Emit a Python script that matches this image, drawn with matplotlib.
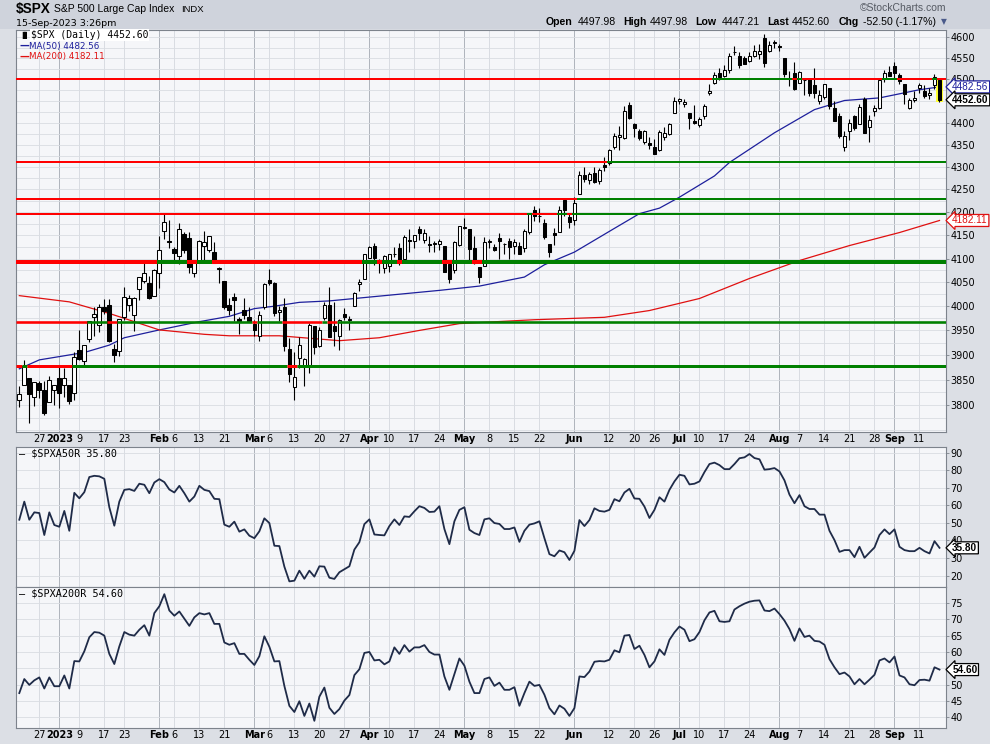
import numpy as np
import pandas as pd
import matplotlib
matplotlib.use("Agg")
import matplotlib.pyplot as plt
from matplotlib.patches import Rectangle
from matplotlib.ticker import NullLocator, NullFormatter

# ---------------- data ----------------
holidays = ["2022-12-26", "2023-01-02", "2023-01-16", "2023-02-20", "2023-04-07",
            "2023-05-29", "2023-06-19", "2023-07-04", "2023-09-04"]
days = pd.bdate_range("2022-12-20", "2023-09-15")
days = days[~days.isin(pd.to_datetime(holidays))]

opens = [
    3810.5, 3839.5, 3853.3, 3815.1, 3843.3, 3829.6, 3805.5, 3829.1,
    3853.3, 3840.4, 3839.7, 3823.4, 3910.8, 3888.6, 3932.4, 3977.6, 3960.6, 3999.3,
    4002.3, 3911.8, 3909.0, 3978.1, 4001.7, 3982.7, 4036.1, 4053.7, 4049.3, 4020.9,
    4070.1, 4158.7, 4136.7, 4119.6, 4105.4, 4153.3, 4144.3, 4068.9, 4096.6, 4126.7,
    4119.5, 4114.8, 4077.4, 4052.4, 4001.8, 4018.6, 3973.2, 3992.4, 3977.2,
    3963.3, 3938.7, 3998.0, 4055.2, 4048.3, 3987.6, 3998.7, 3912.8, 3835.1, 3894.0,
    3876.7, 3878.9, 3958.7, 3917.5, 3975.9, 4002.0, 3959.2, 3939.2, 3982.9, 3974.1,
    3999.5, 4046.7, 4056.2,
    4102.2, 4128.0, 4094.5, 4081.2, 4085.2, 4110.3, 4121.7, 4100.0, 4140.1, 4137.2,
    4164.3, 4139.3, 4130.5, 4132.1, 4132.1, 4126.4, 4087.8, 4075.3, 4129.6,
    4166.8, 4164.1, 4122.3, 4082.6, 4084.7, 4136.0, 4124.3, 4143.7, 4132.2, 4138.5,
    4126.7, 4127.9, 4122.9, 4157.7, 4204.1, 4190.8, 4176.8, 4132.0, 4155.7, 4156.2,
    4226.7, 4190.7,
    4183.0, 4241.0, 4282.0, 4271.6, 4285.5, 4268.7, 4304.9, 4308.3, 4345.4, 4366.3,
    4365.3, 4440.0, 4396.1, 4380.0, 4355.4, 4354.2, 4344.8, 4337.4, 4367.5, 4374.9,
    4422.4,
    4450.5, 4442.0, 4422.6, 4404.5, 4394.2, 4415.6, 4467.7, 4491.5, 4514.6, 4508.9,
    4521.8, 4563.9, 4554.4, 4550.2, 4543.4, 4555.2, 4558.9, 4598.3, 4565.8, 4584.8,
    4578.8, 4550.9, 4502.0, 4514.0, 4491.6, 4498.0, 4501.6, 4487.2, 4450.7, 4458.1,
    4478.9, 4433.8, 4416.3, 4344.9, 4380.3, 4415.3, 4396.4, 4455.2, 4389.4, 4426.0,
    4432.8, 4500.3, 4517.0,
    4530.6, 4510.1, 4490.4, 4434.6, 4451.3, 4481.0, 4473.3, 4462.6, 4487.8, 4497.98,
]
highs = [
    3838.2, 3889.8, 3853.3, 3845.8, 3846.7, 3848.3, 3858.2, 3839.9,
    3878.5, 3873.2, 3839.7, 3906.2, 3950.6, 3919.8, 3970.1, 3997.8, 4003.9, 4015.4,
    4014.2, 3922.9, 3972.9, 4039.3, 4023.9, 4019.6, 4061.6, 4094.2, 4063.9, 4077.2,
    4148.9, 4195.4, 4182.4, 4124.6, 4176.5, 4156.9, 4156.2, 4094.4, 4138.9, 4159.8,
    4148.1, 4136.5, 4081.5, 4052.4, 4017.4, 4028.3, 3978.3, 4018.1, 3997.5,
    3971.7, 3990.8, 4048.3, 4078.5, 4050.0, 4000.4, 4017.8, 3934.1, 3905.1, 3937.3,
    3894.3, 3964.5, 3958.9, 3956.6, 4009.1, 4039.5, 4007.7, 3972.7, 3996.0, 3979.2,
    4030.6, 4057.9, 4110.8,
    4127.7, 4133.1, 4099.7, 4107.3, 4109.5, 4124.3, 4134.4, 4150.3, 4163.2, 4151.7,
    4169.5, 4162.6, 4148.6, 4138.0, 4142.4, 4126.4, 4089.7, 4138.2, 4170.1,
    4186.9, 4164.1, 4148.3, 4082.6, 4147.0, 4142.3, 4130.4, 4154.3, 4132.8, 4143.7,
    4141.3, 4135.5, 4164.7, 4198.1, 4212.9, 4209.2, 4185.7, 4132.0, 4165.7, 4212.9,
    4231.1, 4195.4,
    4232.4, 4290.7, 4299.3, 4288.3, 4299.2, 4298.0, 4322.6, 4340.1, 4375.4, 4391.8,
    4439.2, 4448.5, 4400.2, 4386.2, 4382.3, 4366.6, 4362.1, 4384.4, 4390.4, 4398.4,
    4458.5,
    4456.5, 4454.1, 4422.6, 4440.4, 4412.6, 4443.6, 4488.3, 4517.4, 4527.8, 4532.9,
    4562.3, 4578.4, 4564.7, 4555.0, 4563.4, 4580.6, 4582.5, 4607.1, 4590.2, 4594.2,
    4584.6, 4550.9, 4519.5, 4540.3, 4519.8, 4503.3, 4502.4, 4527.4, 4476.2, 4490.3,
    4478.9, 4450.0, 4421.2, 4381.8, 4407.6, 4418.6, 4443.2, 4458.3, 4418.5, 4439.6,
    4500.1, 4521.7, 4532.3,
    4541.3, 4514.3, 4490.4, 4457.8, 4473.5, 4490.8, 4487.1, 4479.4, 4512.0, 4497.98,
]
lows = [
    3795.6, 3839.5, 3764.5, 3797.0, 3813.2, 3780.8, 3805.5, 3800.3,
    3794.3, 3815.8, 3802.4, 3809.6, 3890.4, 3877.3, 3925.8, 3937.6, 3947.7, 3984.6,
    3926.6, 3885.5, 3897.9, 3971.6, 3989.8, 3949.1, 4013.3, 4048.7, 4015.6, 4020.4,
    4037.2, 4141.9, 4123.4, 4093.4, 4088.4, 4111.7, 4069.7, 4060.8, 4092.7, 4095.0,
    4113.9, 4089.7, 4047.9, 3995.2, 3981.9, 3969.2, 3943.1, 3973.6, 3968.2,
    3939.1, 3928.2, 3995.2, 4044.6, 3980.3, 3969.8, 3908.7, 3846.3, 3808.9, 3873.6,
    3838.2, 3864.1, 3901.3, 3916.9, 3971.2, 3936.2, 3917.4, 3909.2, 3970.6, 3951.5,
    3999.5, 4032.6, 4056.2,
    4102.2, 4086.9, 4069.8, 4069.8, 4072.6, 4102.6, 4086.9, 4099.4, 4113.2, 4123.2,
    4140.4, 4134.5, 4114.6, 4113.9, 4117.8, 4071.4, 4049.4, 4068.7, 4127.9,
    4164.1, 4089.7, 4088.9, 4048.3, 4084.7, 4123.8, 4116.1, 4098.9, 4109.3, 4099.1,
    4110.3, 4109.9, 4113.6, 4153.1, 4180.2, 4179.7, 4142.5, 4103.9, 4129.7, 4156.2,
    4192.2, 4166.2,
    4171.6, 4241.0, 4266.8, 4263.1, 4263.9, 4261.1, 4291.7, 4304.4, 4341.3, 4337.9,
    4362.6, 4407.4, 4367.2, 4360.1, 4351.8, 4341.3, 4328.1, 4335.0, 4360.2, 4372.0,
    4422.4,
    4442.3, 4436.6, 4385.1, 4397.4, 4389.9, 4408.5, 4463.2, 4489.4, 4499.6, 4504.9,
    4514.6, 4557.5, 4527.6, 4535.8, 4541.3, 4552.4, 4547.6, 4528.6, 4564.0, 4573.1,
    4567.5, 4505.8, 4485.5, 4474.6, 4491.2, 4464.4, 4461.3, 4457.9, 4444.0, 4453.4,
    4432.2, 4403.6, 4364.8, 4335.3, 4360.3, 4382.8, 4396.4, 4375.6, 4356.3, 4415.0,
    4431.7, 4493.6, 4507.4,
    4501.4, 4489.6, 4442.4, 4430.5, 4448.4, 4467.9, 4456.8, 4453.5, 4478.7, 4447.21,
]
closes = [
    3821.6, 3878.4, 3822.4, 3844.8, 3829.3, 3783.2, 3849.3, 3839.5,
    3824.1, 3853.0, 3808.1, 3895.1, 3892.1, 3919.3, 3969.6, 3983.2, 3999.1, 3991.0,
    3928.9, 3898.9, 3972.6, 4019.8, 4016.9, 4016.2, 4060.4, 4070.6, 4017.8, 4076.6,
    4119.2, 4179.8, 4136.5, 4111.1, 4164.0, 4117.9, 4081.5, 4090.5, 4137.3, 4136.1,
    4148.0, 4090.4, 4079.1, 3997.3, 3991.1, 4012.3, 3970.0, 3982.2, 3970.2,
    3951.4, 3981.4, 4045.6, 4048.4, 3986.4, 3992.0, 3918.3, 3861.6, 3855.8, 3919.3,
    3891.9, 3960.3, 3916.6, 3951.6, 4002.9, 3937.0, 3948.7, 3971.0, 3977.5, 3971.3,
    4027.8, 4050.8, 4109.3,
    4124.5, 4100.6, 4090.4, 4105.0, 4109.1, 4108.9, 4092.0, 4146.2, 4137.6, 4151.3,
    4154.9, 4154.5, 4129.8, 4133.5, 4137.0, 4071.6, 4056.0, 4135.4, 4169.5,
    4167.9, 4119.6, 4090.8, 4061.2, 4136.3, 4138.1, 4119.2, 4137.6, 4130.6, 4124.1,
    4136.3, 4109.9, 4158.8, 4198.1, 4192.0, 4192.6, 4145.6, 4115.2, 4151.3, 4205.5,
    4205.5, 4179.8,
    4221.0, 4282.4, 4273.8, 4283.9, 4267.5, 4293.9, 4298.9, 4338.9, 4369.0, 4372.6,
    4425.8, 4409.6, 4388.7, 4365.7, 4381.9, 4348.3, 4328.8, 4378.4, 4376.9, 4396.4,
    4450.4,
    4455.6, 4446.8, 4411.6, 4399.0, 4409.5, 4439.3, 4472.2, 4510.0, 4505.4, 4522.8,
    4555.0, 4565.7, 4534.9, 4536.3, 4554.6, 4567.5, 4566.8, 4537.4, 4582.2, 4589.0,
    4576.7, 4513.4, 4501.9, 4478.0, 4518.4, 4499.4, 4467.7, 4468.8, 4464.1, 4489.7,
    4437.9, 4404.3, 4370.4, 4369.7, 4399.8, 4387.6, 4436.0, 4376.3, 4405.7, 4433.3,
    4497.6, 4514.9, 4507.7,
    4515.8, 4496.8, 4465.5, 4451.1, 4457.5, 4487.5, 4461.9, 4467.4, 4505.1, 4452.60,
]

# moving averages
ma50_dates = ["2022-12-20", "2022-12-27", "2023-01-10", "2023-01-18", "2023-01-23",
              "2023-02-01", "2023-02-13", "2023-02-22", "2023-03-01", "2023-03-07",
              "2023-03-14", "2023-03-22", "2023-03-24", "2023-04-24", "2023-05-04",
              "2023-05-17", "2023-05-23", "2023-06-01", "2023-06-13", "2023-06-21",
              "2023-06-27", "2023-07-03", "2023-07-13", "2023-07-18", "2023-07-31",
              "2023-08-10", "2023-08-18", "2023-08-29", "2023-09-11", "2023-09-15"]
ma50_vals = [3872, 3890, 3905, 3920, 3935, 3951, 3968, 3979, 3995, 4000,
             4008, 4011, 4013, 4033, 4042, 4061, 4087, 4114, 4165, 4197,
             4209, 4233, 4280, 4310, 4377, 4430, 4451, 4457, 4476, 4482.56]

ma200_dates = ["2022-12-20", "2023-01-05", "2023-01-18", "2023-02-01", "2023-02-14",
               "2023-02-22", "2023-03-08", "2023-03-24", "2023-04-05", "2023-04-18",
               "2023-04-28", "2023-05-19", "2023-06-09", "2023-06-23", "2023-07-10",
               "2023-07-24", "2023-08-07", "2023-08-21", "2023-09-05", "2023-09-15"]
ma200_vals = [4022, 4009, 3985, 3951, 3942, 3939, 3939, 3929, 3935, 3950,
              3964, 3972, 3977, 3991, 4016, 4058, 4096, 4128, 4156, 4182.11]

# breadth: % of S&P 500 stocks above 50-day / 200-day MA
a50r = [
    51.8, 62.1, 51.8, 56.0, 55.6, 43.1, 56.0, 48.8, 47.8, 56.8,
    45.5, 67.1, 64.0, 67.5, 76.1, 76.8, 76.5, 75.1, 58.9, 48.4,
    62.1, 68.8, 69.2, 68.2, 72.3, 71.7, 66.9, 73.0, 74.9, 73.2,
    69.0, 67.3, 71.1, 66.9, 62.1, 65.0, 71.1, 68.8, 68.1, 63.7,
    63.5, 49.0, 47.8, 50.7, 45.0, 46.3, 42.7, 41.3, 45.2, 52.6,
    49.9, 37.0, 36.8, 25.1, 16.7, 17.1, 22.8, 18.2, 22.8, 19.4,
    25.3, 25.1, 18.8, 18.1, 21.9, 23.6, 25.3, 34.8, 39.0, 49.3,
    52.0, 43.4, 43.1, 42.9, 48.2, 52.0, 48.8, 53.7, 53.4, 56.6,
    59.5, 58.5, 56.2, 56.4, 59.5, 46.5, 37.9, 50.9, 57.4, 58.9,
    46.1, 44.2,
    43.1, 52.0, 52.6, 49.9, 49.4, 46.5, 46.5, 47.4, 39.2, 45.5,
    49.0, 49.7, 50.9, 41.3, 32.2, 31.0, 34.3, 33.3, 28.9, 34.1,
    51.6, 48.2, 51.6, 58.3, 56.8, 56.4, 57.4, 63.5, 62.3, 67.3,
    69.4, 63.9, 63.7, 59.3, 52.8, 57.4, 64.6, 62.1, 68.8, 73.6,
    77.4, 76.8, 71.9, 72.3, 73.6, 78.9, 83.5, 84.3, 82.9, 80.6,
    80.6, 83.5, 86.8, 87.3, 89.2, 86.9, 86.2, 80.3, 80.6, 81.2,
    79.3, 74.2, 66.1, 61.2, 65.8, 59.5, 57.9, 57.9, 54.7, 54.7,
    45.5, 40.2, 33.5, 34.5, 34.5, 30.5, 36.4, 30.1, 33.1, 36.0,
    43.1, 46.3, 43.6, 46.3, 36.4, 34.5, 33.9, 33.9, 35.8, 33.9,
    32.6, 39.6, 35.8,
]
a200r = [
    47.4, 51.7, 49.9, 51.3, 52.2, 48.8, 52.2, 49.5, 49.5, 52.8,
    48.8, 57.2, 57.1, 60.2, 64.5, 66.1, 65.9, 65.0, 59.4, 56.3,
    61.7, 66.1, 65.3, 65.0, 66.8, 68.2, 65.0, 71.9, 74.0, 77.7,
    72.7, 71.1, 72.4, 70.2, 68.0, 70.6, 71.9, 71.5, 71.9, 68.6,
    68.6, 62.9, 62.2, 62.7, 59.4, 59.4, 57.6, 56.0, 58.7, 64.8,
    61.6, 57.1, 57.2, 49.6, 43.5, 41.6, 44.9, 40.4, 44.2, 38.9,
    46.3, 49.1, 42.9, 41.0, 42.5, 45.1, 46.8, 52.9, 54.7, 59.7,
    60.0, 57.4, 57.6, 56.2, 57.1, 61.4, 59.4, 62.1, 60.1, 61.4,
    61.4, 62.1, 60.0, 59.2, 59.2, 52.5, 48.4, 53.2, 58.0, 55.8,
    50.9, 47.4,
    47.4, 51.7, 52.2, 49.6, 50.6, 48.4, 48.4, 49.2, 43.5, 47.4,
    50.9, 49.6, 49.9, 46.9, 42.8, 40.9, 43.6, 42.6, 40.4, 42.8,
    52.5, 52.3, 54.0, 57.0, 57.2, 57.1, 57.6, 60.5, 59.9, 65.0,
    65.2, 60.9, 61.9, 59.1, 55.3, 57.1, 60.8, 59.1, 63.7, 66.0,
    67.8, 66.8, 63.3, 63.9, 66.1, 69.7, 72.1, 72.6, 69.4, 69.2,
    69.4, 73.0, 74.0, 74.8, 75.4, 75.7, 75.8, 72.7, 72.5, 73.3,
    71.6, 69.6, 67.0, 63.4, 67.2, 64.6, 65.0, 63.4, 63.2, 62.2,
    57.8, 55.3, 53.2, 53.7, 52.5, 50.1, 51.7, 50.1, 51.5, 53.0,
    57.4, 58.0, 56.8, 58.6, 52.8, 52.2, 50.1, 49.8, 51.4, 51.5,
    51.2, 55.3, 54.6,
]

# horizontal support / resistance levels
levels = [4500, 4310, 4229, 4197, 4093, 3967, 3877]
level_px = [2, 2, 2, 2, 4, 2.6, 3]

tick_dates = ["2022-12-27", "2023-01-03", "2023-01-09", "2023-01-17", "2023-01-23",
              "2023-02-01", "2023-02-06", "2023-02-13", "2023-02-21", "2023-03-01",
              "2023-03-06", "2023-03-13", "2023-03-20", "2023-03-27", "2023-04-03",
              "2023-04-10", "2023-04-17", "2023-04-24", "2023-05-01", "2023-05-08",
              "2023-05-15", "2023-05-22", "2023-06-01", "2023-06-12", "2023-06-20",
              "2023-06-26", "2023-07-03", "2023-07-10", "2023-07-17", "2023-07-24",
              "2023-08-01", "2023-08-07", "2023-08-14", "2023-08-21", "2023-08-28",
              "2023-09-01", "2023-09-11"]
tick_labels = ["27", "2023", "9", "17", "23", "Feb", "6", "13", "21", "Mar",
               "6", "13", "20", "27", "Apr", "10", "17", "24", "May", "8",
               "15", "22", "Jun", "12", "20", "26", "Jul", "10", "17", "24",
               "Aug", "7", "14", "21", "28", "Sep", "11"]
bold_labels = {"2023", "Feb", "Mar", "Apr", "May", "Jun", "Jul", "Aug", "Sep"}

# ---------------- figure ----------------
opens, highs, lows, closes = map(np.array, (opens, highs, lows, closes))
n = len(closes)
xi = np.arange(n)
tick_pos = days.get_indexer(pd.to_datetime(tick_dates))

W, H = 990, 744
fig = plt.figure(figsize=(W / 100, H / 100), dpi=100, facecolor="#dcdfe5")


def fx(x):
    return x / W


def fy(y):
    return 1 - y / H


def px(p):
    return p * 0.72


XL = (-0.66, n + 0.3)
BG = "#f5f6f9"
GRID = "#d9dce2"
MONTH_GRID = "#aeb3bc"
SPINE = "#7d838c"

ax = fig.add_axes([fx(16), fy(432), fx(930), (432 - 30) / H])
ax1 = fig.add_axes([fx(16), fy(587), fx(930), (587 - 447) / H])
ax2 = fig.add_axes([fx(16), fy(728), fx(930), (728 - 587) / H])


def style(a, bottom_labels):
    a.set_facecolor(BG)
    a.set_xlim(*XL)
    for s in a.spines.values():
        s.set_color(SPINE)
        s.set_linewidth(0.8)
    a.yaxis.tick_right()
    a.tick_params(axis="y", length=2, width=0.6, pad=1, labelsize=7,
                  color=SPINE, labelcolor="black")
    a.set_xticks(tick_pos)
    a.tick_params(axis="x", length=0, pad=1.5, labelsize=7, labelbottom=bottom_labels)
    if bottom_labels:
        a.set_xticklabels(tick_labels)
        for t in a.get_xticklabels():
            if t.get_text() in bold_labels:
                t.set_fontweight("bold")
    for p, lab in zip(tick_pos, tick_labels):
        a.axvline(p, color=MONTH_GRID if lab in bold_labels else GRID,
                  lw=0.7, zorder=0)


def tag(a, y, text, color, bold=False):
    a.annotate(text, xy=(1, y), xycoords=a.get_yaxis_transform(),
               xytext=(4.5, 0), textcoords="offset points", va="center", ha="left",
               fontsize=7.2, family="Liberation Sans",
               color="black" if bold else color,
               fontweight="bold" if bold else "normal",
               bbox=dict(boxstyle="larrow,pad=0.1", fc="white", ec=color, lw=0.9),
               annotation_clip=False, zorder=20)


def right_labels(a, values, hidden):
    a.set_yticks(values, labels=["" if v in hidden else str(v) for v in values])


# ---- price panel ----
style(ax, True)
ax.set_yscale("log")
ax.set_ylim(3747, 4617)
right_labels(ax, list(range(3800, 4601, 50)), {4450})
ax.yaxis.set_minor_locator(NullLocator())
ax.yaxis.set_minor_formatter(NullFormatter())
for v in range(3750, 4626, 25):
    ax.axhline(v, color=GRID, lw=0.6, zorder=0)

ma50_x = days.get_indexer(pd.to_datetime(ma50_dates))
ma200_x = days.get_indexer(pd.to_datetime(ma200_dates))
ax.plot(ma50_x, ma50_vals, color="#1d1f9c", lw=0.9, zorder=2)
ax.plot(ma200_x, ma200_vals, color="#e01010", lw=0.9, zorder=2)

# highlight of the last bar
ax.add_patch(Rectangle((n - 1 - 0.62, lows[-1]), 1.24, highs[-1] - lows[-1] + 1,
                       fc="#ffff30", ec="none", zorder=2.5))
ax.vlines(xi, lows, highs, color="black", lw=0.8, zorder=3)
for i in range(n):
    lo, hi = sorted((opens[i], closes[i]))
    hi = max(hi, lo + 0.8)
    fc = "white" if closes[i] >= opens[i] else "black"
    ax.add_patch(Rectangle((i - 0.37, lo), 0.74, hi - lo, fc=fc, ec="black",
                           lw=0.75, zorder=4))

# level lines, green where the close is above them, red where below
edges = np.concatenate([[XL[0]], xi[1:] - 0.5, [XL[1]]])
for lvl, w in zip(levels, level_px):
    above = closes >= lvl
    start = 0
    for i in range(1, n + 1):
        if i == n or above[i] != above[start]:
            ax.hlines(lvl, edges[start], edges[i],
                      colors="#008000" if above[start] else "#ff0000",
                      lw=px(w), zorder=5, capstyle="butt")
            start = i

tag(ax, ma50_vals[-1], f"{ma50_vals[-1]:.2f}", "#1d1f9c")
tag(ax, closes[-1], f"{closes[-1]:.2f}", "black", bold=True)
tag(ax, ma200_vals[-1], f"{ma200_vals[-1]:.2f}", "#e01010")

# ---- breadth panels ----
style(ax1, False)
ax1.set_ylim(13.5, 93.2)
right_labels(ax1, list(range(20, 91, 10)), set())
for v in range(20, 91, 10):
    ax1.axhline(v, color=GRID, lw=0.6, zorder=0)
ax1.plot(xi, a50r, color="#1f2b48", lw=1.3, zorder=3)
tag(ax1, a50r[-1], f"{a50r[-1]:.2f}", "black", bold=True)

style(ax2, True)
ax2.set_ylim(36.7, 79.9)
right_labels(ax2, list(range(40, 76, 5)), {55})
for v in range(40, 80, 5):
    ax2.axhline(v, color=GRID, lw=0.6, zorder=0)
ax2.plot(xi, a200r, color="#1f2b48", lw=1.3, zorder=3)
tag(ax2, a200r[-1], f"{a200r[-1]:.2f}", "black", bold=True)

# ---- header ----
fig.patches.append(Rectangle((0, fy(29)), 1, 1 - fy(29), transform=fig.transFigure,
                             fc="#cfd3dc", ec="none", zorder=-1))
fig.text(fx(16), fy(9), "$SPX", fontsize=9.8, fontweight="bold",
         family="Liberation Sans", va="center")
fig.text(fx(54), fy(9), "S&P 500 Large Cap Index", fontsize=7.5,
         family="Liberation Sans", va="center")
fig.text(fx(181), fy(9), "INDX", fontsize=6.8, family="Liberation Sans", va="center")
fig.text(fx(16), fy(23), "15-Sep-2023 3:26pm", fontsize=6.8, va="center")
fig.text(fx(946), fy(8), "\u00a9StockCharts.com", fontsize=7.5, color="#555a63",
         family="Liberation Sans", va="center", ha="right")
ohlc = [(546, "Open", True), (578, "4497.98", False), (623, "High", True),
        (650, "4497.98", False), (695, "Low", True), (722, "4447.21", False),
        (767, "Last", True), (792, "4452.60", False), (839, "Chg", True),
        (863, "-52.50 (-1.17%)", False)]
for x, s, b in ohlc:
    fig.text(fx(x), fy(22), s, fontsize=7.6, family="Liberation Sans",
             fontweight="bold" if b else "normal", va="center")
fig.text(fx(941), fy(22), "\u25bc", fontsize=5.5, color="#4a5a8a", va="center")

# ---- legends ----
fig.text(fx(19), fy(35), "\u2590\u258c", fontsize=5, va="center")
fig.text(fx(31), fy(35), "$SPX (Daily) 4452.60", fontsize=7, family="DejaVu Sans Mono",
         va="center", bbox=dict(fc="white", ec="none", pad=0.6))
fig.text(fx(19), fy(46), "\u2014", fontsize=7, color="#1d1f9c", va="center",
         fontweight="bold")
fig.text(fx(29), fy(46), "MA(50) 4482.56", fontsize=6.3, color="#1d1f9c", va="center")
fig.text(fx(19), fy(57), "\u2014", fontsize=7, color="#e01010", va="center",
         fontweight="bold")
fig.text(fx(29), fy(57), "MA(200) 4182.11", fontsize=6.3, color="#e01010", va="center")
fig.text(fx(19), fy(453), "\u2014 $SPXA50R 35.80", fontsize=7.3,
         family="DejaVu Sans Mono", va="center", color="black")
fig.text(fx(19), fy(594), "\u2014 $SPXA200R 54.60", fontsize=7.3,
         family="DejaVu Sans Mono", va="center", color="black")

fig.savefig("out.png", dpi=100, facecolor=fig.get_facecolor())
